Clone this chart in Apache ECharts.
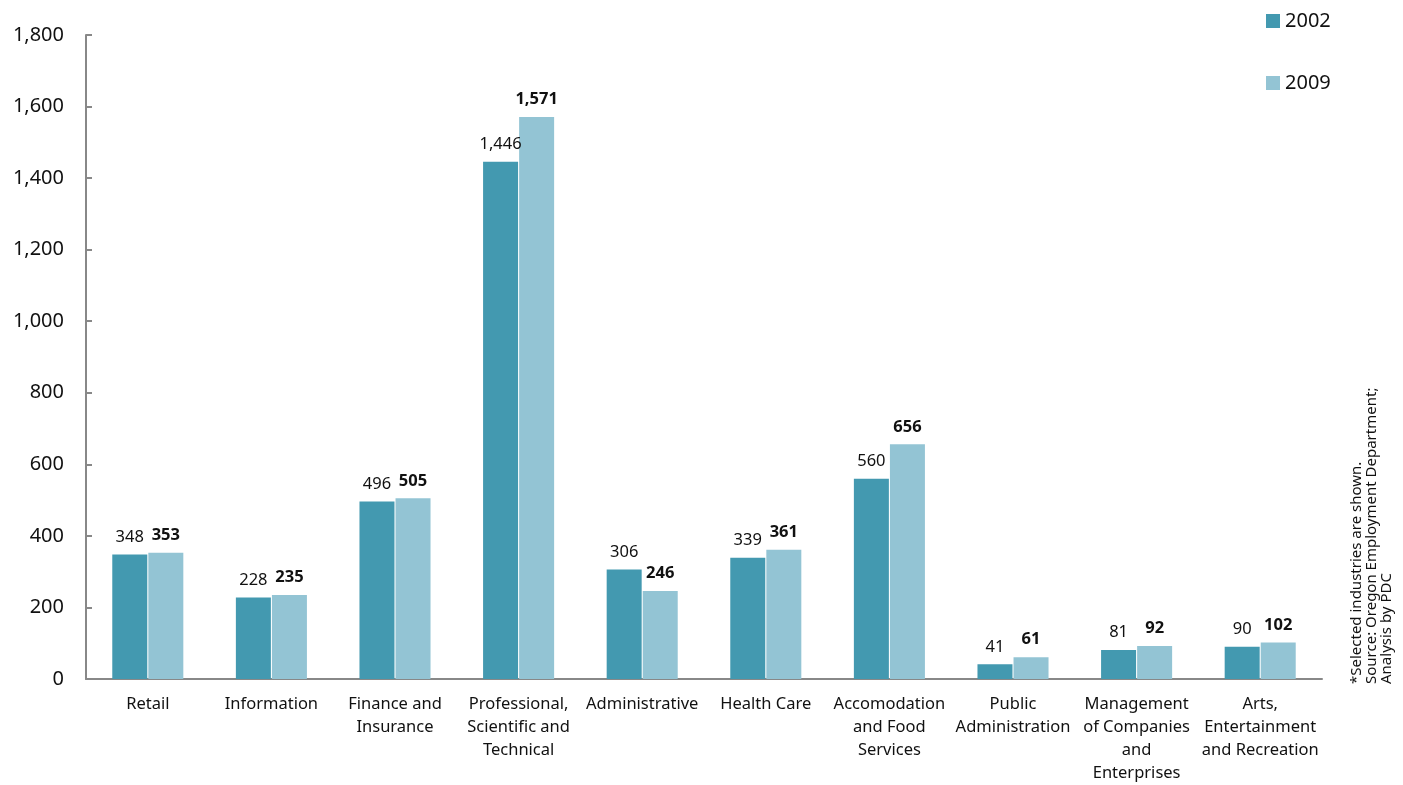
<!DOCTYPE html>
<html>
<head>
<meta charset="utf-8">
<script src="https://cdn.jsdelivr.net/npm/echarts@6/dist/echarts.min.js"></script>
<style>
  html, body { margin: 0; padding: 0; background: #fff; }
  #chart { width: 1403px; height: 785px; }
</style>
</head>
<body>
<div id="chart"></div>
<script>
// Employment by selected industry, 2002 vs 2009
const categories = [
  'Retail',
  'Information',
  'Finance and\nInsurance',
  'Professional,\nScientific and\nTechnical',
  'Administrative',
  'Health Care',
  'Accomodation\nand Food\nServices',
  'Public\nAdministration',
  'Management\nof Companies\nand\nEnterprises',
  'Arts,\nEntertainment\nand Recreation'
];
const values2002 = [348, 228, 496, 1446, 306, 339, 560, 41, 81, 90];
const values2009 = [353, 235, 505, 1571, 246, 361, 656, 61, 92, 102];
const yTicks = { min: 0, max: 1800, interval: 200 };
const noteLines = [
  '*Selected industries are shown.',
  'Source: Oregon Employment Department;',
  'Analysis by PDC'
];

const FONT = 'Noto Sans';
const chart = echarts.init(document.getElementById('chart'));

chart.setOption({
  animation: false,
  textStyle: { fontFamily: FONT },
  grid: { left: 86, right: 81, top: 35, bottom: 106, containLabel: false },
  legend: {
    orient: 'vertical',
    left: 1261,
    top: 6,
    itemWidth: 14,
    itemHeight: 14,
    itemGap: 42,
    icon: 'rect',
    textStyle: { fontFamily: FONT, fontSize: 20, color: '#111', padding: [0, 0, 0, 0] },
    data: ['2002', '2009']
  },
  xAxis: {
    type: 'category',
    data: categories,
    axisLine: { lineStyle: { color: '#888', width: 2 } },
    axisTick: { show: false },
    axisLabel: {
      interval: 0,
      fontFamily: FONT,
      fontSize: 16.5,
      lineHeight: 23,
      color: '#111',
      margin: 14
    }
  },
  yAxis: {
    type: 'value',
    min: yTicks.min,
    max: yTicks.max,
    interval: yTicks.interval,
    splitLine: { show: false },
    axisLine: { show: true, lineStyle: { color: '#888', width: 2 } },
    axisTick: { show: true, inside: true, length: 6, lineStyle: { color: '#888', width: 2 } },
    axisLabel: {
      fontFamily: FONT,
      fontSize: 20,
      color: '#111',
      margin: 22,
      formatter: v => v.toLocaleString('en-US')
    }
  },
  series: [
    {
      name: '2002',
      type: 'bar',
      data: values2002,
      barWidth: 35,
      barGap: '3%',
      itemStyle: { color: '#4399b0' },
      label: {
        show: true,
        position: 'top',
        distance: 9,
        fontFamily: FONT,
        fontSize: 16.5,
        color: '#111',
        formatter: p => p.value.toLocaleString('en-US')
      }
    },
    {
      name: '2009',
      type: 'bar',
      data: values2009,
      barWidth: 35,
      itemStyle: { color: '#93c4d4' },
      label: {
        show: true,
        position: 'top',
        distance: 9,
        fontFamily: FONT,
        fontSize: 16.5,
        fontWeight: 'bold',
        color: '#111',
        formatter: p => p.value.toLocaleString('en-US')
      }
    }
  ],
  graphic: [
    {
      type: 'text',
      x: 1349,
      y: 684,
      rotation: Math.PI / 2,
      style: {
        text: noteLines.join('\n'),
        fontFamily: FONT,
        fontSize: 15,
        lineHeight: 15,
        fill: '#111',
        textAlign: 'left',
        textVerticalAlign: 'top'
      }
    }
  ]
});
</script>
</body>
</html>
